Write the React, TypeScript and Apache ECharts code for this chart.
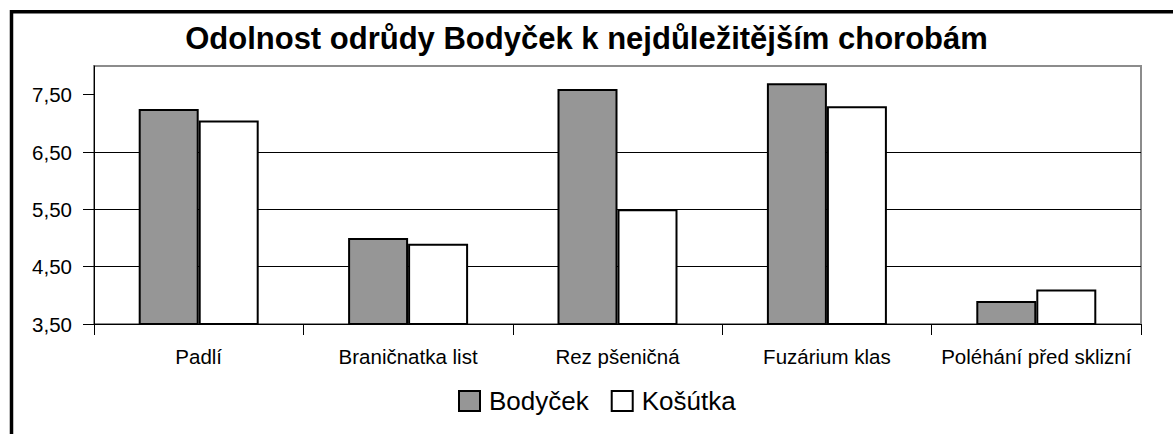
import React, { useEffect, useRef } from "react";
import * as echarts from "echarts";

const categories = ["Padlí", "Braničnatka list", "Rez pšeničná", "Fuzárium klas", "Poléhání před sklizní"];
const bodycek = [7.25, 5.0, 7.6, 7.7, 3.9];
const kosutka = [7.05, 4.9, 5.5, 7.3, 4.1];
const yTicks = [3.5, 4.5, 5.5, 6.5, 7.5];
const seriesNames = ["Bodyček", "Košútka"];

const FONT = "Arial, 'Liberation Sans', sans-serif";

export default function App() {
  const ref = useRef<HTMLDivElement>(null);
  useEffect(() => {
    if (!ref.current) return;
    const chart = echarts.init(ref.current, null, { renderer: "svg" });
    chart.setOption({
      animation: false,
      backgroundColor: "#fff",
      textStyle: { fontFamily: FONT },
      title: {
        text: "Odolnost odrůdy Bodyček k nejdůležitějším chorobám",
        left: "center",
        top: 18,
        textStyle: { fontFamily: FONT, fontSize: 31, fontWeight: "bold", color: "#000" },
      },
      graphic: [
        {
          type: "rect",
          shape: { x: 11.5, y: 11.75, width: 1300, height: 600 },
          style: { fill: "none", stroke: "#000", lineWidth: 3.5 },
          silent: true,
        },
      ],
      legend: {
        left: 453,
        top: 383,
        itemWidth: 21,
        itemHeight: 20,
        itemGap: 22,
        icon: "rect",
        data: seriesNames,
        textStyle: { fontFamily: FONT, fontSize: 26, color: "#000", padding: [0, 0, 0, 4] },
      },
      grid: {
        left: 94,
        right: 32,
        top: 66,
        bottom: 110,
        show: true,
        borderColor: "#8c8c8c",
        borderWidth: 2,
        containLabel: false,
      },
      xAxis: {
        type: "category",
        data: categories,
        axisLine: { show: true, lineStyle: { color: "#000", width: 1 } },
        axisTick: { show: true, alignWithLabel: false, length: 11, lineStyle: { color: "#000", width: 1 } },
        axisLabel: { color: "#000", fontSize: 20.5, fontFamily: FONT, margin: 22, interval: 0 },
        splitLine: { show: false },
      },
      yAxis: {
        type: "value",
        min: 3.5,
        max: 8,
        interval: 1,
        axisLine: { show: true, lineStyle: { color: "#000", width: 1 } },
        axisTick: { show: true, length: 11, lineStyle: { color: "#000", width: 1 }, customValues: yTicks },
        axisLabel: {
          color: "#000",
          fontSize: 20.5,
          fontFamily: FONT,
          margin: 22,
          customValues: yTicks,
          formatter: (v: number) => (yTicks.includes(v) ? v.toFixed(2).replace(".", ",") : ""),
        },
        splitLine: { show: true, showMaxLine: false, showMinLine: false, lineStyle: { color: "#000", width: 1 } },
      },
      series: [
        {
          name: seriesNames[0],
          type: "bar",
          data: bodycek,
          barWidth: 60,
          barGap: "0%",
          itemStyle: { color: "#969696", borderColor: "#000", borderWidth: 2 },
        },
        {
          name: seriesNames[1],
          type: "bar",
          data: kosutka,
          barWidth: 60,
          barGap: "0%",
          itemStyle: { color: "#ffffff", borderColor: "#000", borderWidth: 2 },
        },
      ],
    });
    return () => chart.dispose();
  }, []);
  return (
    <div
      ref={ref}
      style={{ position: "absolute", left: 0, top: 0, width: 1173, height: 434 }}
    />
  );
}
